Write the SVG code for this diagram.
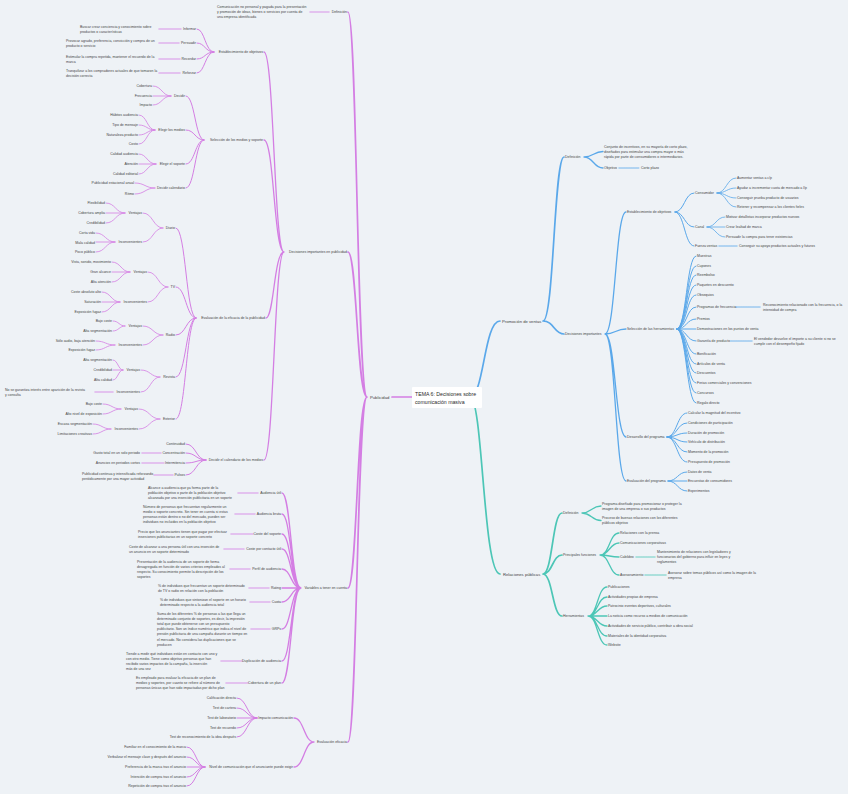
<svg xmlns="http://www.w3.org/2000/svg" width="848" height="794" viewBox="0 0 848 794">
<style>
.t{font-family:"Liberation Sans",Arial,sans-serif;font-size:3.5px;fill:#444}
.e{text-anchor:end}
.h{font-size:4.2px}
.r{font-size:5.2px;fill:#2a2a2a}
path{fill:none;stroke-linecap:round}
.m path{stroke:#d47ee3}
.b path{stroke:#5aa8ea}
.g path{stroke:#4cc6b6}
.w1{stroke-width:1.7}
.w2{stroke-width:1.3}
.w3{stroke-width:1}
.w4{stroke-width:0.8}
.d{stroke-width:1.6;stroke-opacity:.55}
.dd{stroke-dasharray:1 .7}
</style>
<rect width="848" height="794" fill="#eef2f6"/>
<g id="connectors">
<g class="m">
<path class="w1" d="M412 397H392"/>
<path class="w1" d="M367 397C357 397 357 12 348 12M367 397C357 397 357 252 348 252M367 397C357 397 357 588 348 588M367 397C357 397 357 742 348 742"/>
<path class="d" d="M329 12H310"/>
<path class="w2" d="M284 252C274 252 274 52 264 52M284 252C274 252 274 140 264 140M284 252C274 252 274 318 266 318M284 252C274 252 274 460 264 460"/>
<path class="w3" d="M214 52C205 52 205 29 197 29M214 52C205 52 205 43 197 43M214 52C205 52 205 59 197 59M214 52C205 52 205 73 197 73"/>
<path class="d" d="M181 29H159M179 43H159M180 59H159M180 73H159"/>
<path class="w3" d="M204 140C195 140 195 96 186 96M204 140C195 140 195 130 186 130M204 140C195 140 195 164 186 164M204 140C195 140 195 188 186 188"/>
<path class="w4" d="M171 96C162 96 162 86 153 86M171 96H153M171 96C162 96 162 105 153 105"/>
<path class="w4" d="M155 130C147 130 147 115 139 115M155 130C147 130 147 125 139 125M155 130C147 130 147 135 139 135M155 130C147 130 147 144 139 144"/>
<path class="w4" d="M156 164C147 164 147 154 139 154M156 164H139M156 164C147 164 147 174 139 174"/>
<path class="w4" d="M155 188C145 188 145 183 135 183M155 188C145 188 145 194 135 194"/>
<path class="w3" d="M196 318C186 318 186 228 176 228M196 318C186 318 186 287 176 287M196 318C186 318 186 335 176 335M196 318C186 318 186 377 176 377M196 318C186 318 186 419 176 419"/>
<path class="w4" d="M163 228C153 228 153 213 143 213M163 228C153 228 153 242 143 242M125 213C115.5 213 115.5 203 106 203M125 213H106M125 213C115.5 213 115.5 223 106 223M115 242C105.5 242 105.5 233 96 233M115 242H96M115 242C105.5 242 105.5 252 96 252M168 287C158 287 158 272 148 272M168 287C158 287 158 302 148 302M130 272C121 272 121 262 112 262M130 272H112M130 272C121 272 121 282 112 282M120 302C111 302 111 292 102 292M120 302H102M120 302C111 302 111 312 102 312M163 335C153 335 153 326 143 326M163 335C153 335 153 345 143 345M125 326C119 326 119 321 113 321M125 326C119 326 119 331 113 331M115 345C105.5 345 105.5 341 96 341M115 345C105.5 345 105.5 350 96 350M160 377C150.5 377 150.5 370 141 370M160 377C150.5 377 150.5 392 141 392M123 370C118 370 118 360 113 360M123 370H113M123 370C118 370 118 380 113 380M160 419C149.5 419 149.5 409 139 409M160 419C149.5 419 149.5 429 139 429M121 409C112 409 112 404 103 404M121 409C112 409 112 414 103 414M111 429C102 429 102 424 93 424M111 429C102 429 102 434 93 434"/>
<path class="d" d="M113 392H95"/>
<path class="w3" d="M206 460C196 460 196 444 186 444M206 460C196 460 196 453 186 453M206 460C196 460 196 463 186 463M206 460C196 460 196 475 186 475"/>
<path class="d" d="M161 453H142M164 463H142M173 475H154"/>
<path class="w2" d="M301 588C291 588 291 493 282 493M301 588C291 588 291 514 282 514M301 588C291 588 291 534 282 534M301 588C291 588 291 549 282 549M301 588C291 588 291 569 282 569M301 588H282M301 588C291 588 291 602 282 602M301 588C291 588 291 629 282 629M301 588C291 588 291 661 282 661M301 588C291 588 291 683 282 683"/>
<path class="d" d="M258 493H238M255 514H235M253 534H231M244 549H224M250 569H230M269 588H249M270 602H250M270 629H251M242 661H221M248 683H226"/>
<path class="w2" d="M314 742C304 742 304 718 294 718M314 742C304 742 304 767 294 767"/>
<path class="w3" d="M257 718C247 718 247 698 237 698M257 718C247 718 247 708 237 708M257 718H237M257 718C247 718 247 728 237 728M257 718C247 718 247 737 237 737"/>
<path class="w3" d="M205 767C196 767 196 747 187 747M205 767C196 767 196 757 187 757M205 767H187M205 767C196 767 196 777 187 777M205 767C196 767 196 786 187 786"/>
</g>
<g class="b">
<path class="w1" d="M470 397C484 397 484 321 500 321"/>
<path class="w1" d="M543 321C554 321 554 157 564 157M543 321C554 321 554 334 564 334"/>
<path class="w2" d="M584 157C593.5 157 593.5 151.5 603 151.5M584 157C593.5 157 593.5 168 603 168"/>
<path class="d dd" d="M619 168H639"/>
<path class="w2" d="M605 334C615.5 334 615.5 212 626 212M605 334C615.5 334 615.5 329 626 329M605 334C615.5 334 615.5 437 626 437M605 334C615.5 334 615.5 481 626 481"/>
<path class="w3" d="M675 212C684.5 212 684.5 193 694 193M675 212C684.5 212 684.5 227 694 227M675 212C684.5 212 684.5 246 694 246"/>
<path class="w4" d="M717 193C726.5 193 726.5 178 736 178M717 193C726.5 193 726.5 188 736 188M717 193C726.5 193 726.5 198 736 198M717 193C726.5 193 726.5 207 736 207M707 227C716 227 716 217 725 217M707 227H725M707 227C716 227 716 237 725 237"/>
<path class="d dd" d="M719 246H737"/>
<path class="w3" d="M677 329C686.5 329 686.5 256 696 256M677 329C686.5 329 686.5 266 696 266M677 329C686.5 329 686.5 275 696 275M677 329C686.5 329 686.5 285 696 285M677 329C686.5 329 686.5 295 696 295M677 329C686.5 329 686.5 307 696 307M677 329C686.5 329 686.5 319 696 319M677 329H696M677 329C686.5 329 686.5 341 696 341M677 329C686.5 329 686.5 354 696 354M677 329C686.5 329 686.5 364 696 364M677 329C686.5 329 686.5 373 696 373M677 329C686.5 329 686.5 383 696 383M677 329C686.5 329 686.5 393 696 393M677 329C686.5 329 686.5 403 696 403"/>
<path class="d dd" d="M736 307H760M731 341H752"/>
<path class="w3" d="M667 437C677 437 677 413 687 413M667 437C677 437 677 423 687 423M667 437C677 437 677 433 687 433M667 437C677 437 677 442 687 442M667 437C677 437 677 452 687 452M667 437C677 437 677 462 687 462"/>
<path class="w3" d="M668 481C677.5 481 677.5 472 687 472M668 481H687M668 481C677.5 481 677.5 491 687 491"/>
</g>
<g class="g">
<path class="w1" d="M470 397C483 397 483 574 500 574"/>
<path class="w1" d="M543 574C552.5 574 552.5 513 562 513M543 574C552.5 574 552.5 555 562 555M543 574C552.5 574 552.5 616 562 616"/>
<path class="w2" d="M582 513C591.5 513 591.5 506 601 506M582 513C591.5 513 591.5 520.5 601 520.5"/>
<path class="w2" d="M600 555C609.5 555 609.5 533 619 533M600 555C609.5 555 609.5 543 619 543M600 555C609.5 555 609.5 557 619 557M600 555C609.5 555 609.5 575 619 575"/>
<path class="d dd" d="M636 557H655M645 575H666"/>
<path class="w2" d="M588 616C597.5 616 597.5 587 607 587M588 616C597.5 616 597.5 597 607 597M588 616C597.5 616 597.5 606 607 606M588 616H607M588 616C597.5 616 597.5 626 607 626M588 616C597.5 616 597.5 636 607 636M588 616C597.5 616 597.5 645 607 645"/>
</g>
</g>
<g id="root"><rect x="412" y="387" width="70" height="21" rx="1" fill="#ffffff"/><text class="t r" x="415" y="396">TEMA 6: Decisiones sobre<tspan x="415" dy="7.6">comunicación masiva</tspan></text></g>
<g id="left">
<g id="publicidad"><text class="t h" x="370" y="398.5">Publicidad</text></g>
<g id="p-def"><text class="t e" x="347" y="13.3">Definición</text></g>
<g id="p-def-d"><text class="t" x="217" y="8.2">Comunicación no personal y pagada para la presentación<tspan x="217" dy="5.1">y promoción de ideas, bienes o servicios por cuenta de</tspan><tspan x="217" dy="5.1">una empresa identificada</tspan></text></g>
<g id="p-dec"><text class="t e" x="347" y="253.3">Decisiones importantes en publicidad</text></g>
<g id="p-obj"><text class="t e" x="263" y="53.3">Establecimiento de objetivos</text></g>
<g id="o1"><text class="t e" x="196" y="30.3">Informar</text></g>
<g id="o1d"><text class="t" x="80" y="27.8">Buscar crear conciencia y conocimiento sobre<tspan x="80" dy="5.1">productos o características</tspan></text></g>
<g id="o2"><text class="t e" x="196" y="44.3">Persuadir</text></g>
<g id="o2d"><text class="t" x="66" y="41.8">Provocar agrado, preferencia, convicción y compra de un<tspan x="66" dy="5.1">producto o servicio</tspan></text></g>
<g id="o3"><text class="t e" x="196" y="60.3">Recordar</text></g>
<g id="o3d"><text class="t" x="66" y="57.8">Estimular la compra repetida, mantener el recuerdo de la<tspan x="66" dy="5.1">marca</tspan></text></g>
<g id="o4"><text class="t e" x="196" y="74.3">Reforzar</text></g>
<g id="o4d"><text class="t" x="66" y="71.8">Tranquilizar a los compradores actuales de que tomaron la<tspan x="66" dy="5.1">decisión correcta</tspan></text></g>
<g id="p-sel"><text class="t e" x="263" y="141.3">Selección de los medios y soporte</text></g>
<g id="s1"><text class="t e" x="185" y="97.3">Decidir</text></g>
<g id="s1a"><text class="t e" x="152" y="87.3">Cobertura</text></g>
<g id="s1b"><text class="t e" x="152" y="97.3">Frecuencia</text></g>
<g id="s1c"><text class="t e" x="152" y="106.3">Impacto</text></g>
<g id="s2"><text class="t e" x="185" y="131.3">Elegir los medios</text></g>
<g id="s2a"><text class="t e" x="138" y="116.3">Hábitos audiencia</text></g>
<g id="s2b"><text class="t e" x="138" y="126.3">Tipo de mensaje</text></g>
<g id="s2c"><text class="t e" x="138" y="136.3">Naturaleza producto</text></g>
<g id="s2d"><text class="t e" x="138" y="145.3">Costo</text></g>
<g id="s3"><text class="t e" x="185" y="165.3">Elegir el soporte</text></g>
<g id="s3a"><text class="t e" x="138" y="155.3">Calidad audiencia</text></g>
<g id="s3b"><text class="t e" x="138" y="165.3">Atención</text></g>
<g id="s3c"><text class="t e" x="138" y="175.3">Calidad editorial</text></g>
<g id="s4"><text class="t e" x="185" y="189.3">Decidir calendario</text></g>
<g id="s4a"><text class="t e" x="134" y="184.3">Publicidad estacional anual</text></g>
<g id="s4b"><text class="t e" x="134" y="195.3">Ritmo</text></g>
<g id="p-eval"><text class="t e" x="265" y="319.3">Evaluación de la eficacia de la publicidad</text></g>
<g id="diario"><text class="t e" x="175" y="229.3">Diario</text></g>
<g id="di-v"><text class="t e" x="142" y="214.3">Ventajas</text></g>
<g id="di-v1"><text class="t e" x="105" y="204.3">Flexibilidad</text></g>
<g id="di-v2"><text class="t e" x="105" y="214.3">Cobertura amplia</text></g>
<g id="di-v3"><text class="t e" x="105" y="224.3">Credibilidad</text></g>
<g id="di-i"><text class="t e" x="142" y="243.3">Inconvenientes</text></g>
<g id="di-i1"><text class="t e" x="95" y="234.3">Corta vida</text></g>
<g id="di-i2"><text class="t e" x="95" y="244.3">Mala calidad</text></g>
<g id="di-i3"><text class="t e" x="95" y="253.3">Poco público</text></g>
<g id="tv"><text class="t e" x="175" y="288.3">TV</text></g>
<g id="tv-v"><text class="t e" x="147" y="273.3">Ventajas</text></g>
<g id="tv-v1"><text class="t e" x="111" y="263.3">Vista, sonido, movimiento</text></g>
<g id="tv-v2"><text class="t e" x="111" y="273.3">Gran alcance</text></g>
<g id="tv-v3"><text class="t e" x="111" y="283.3">Alta atención</text></g>
<g id="tv-i"><text class="t e" x="147" y="303.3">Inconvenientes</text></g>
<g id="tv-i1"><text class="t e" x="101" y="293.3">Coste absoluto alto</text></g>
<g id="tv-i2"><text class="t e" x="101" y="303.3">Saturación</text></g>
<g id="tv-i3"><text class="t e" x="101" y="313.3">Exposición fugaz</text></g>
<g id="radio"><text class="t e" x="175" y="336.3">Radio</text></g>
<g id="ra-v"><text class="t e" x="142" y="327.3">Ventajas</text></g>
<g id="ra-v1"><text class="t e" x="112" y="322.3">Bajo coste</text></g>
<g id="ra-v2"><text class="t e" x="112" y="332.3">Alta segmentación</text></g>
<g id="ra-i"><text class="t e" x="142" y="346.3">Inconvenientes</text></g>
<g id="ra-i1"><text class="t e" x="95" y="342.3">Sólo audio, baja atención</text></g>
<g id="ra-i2"><text class="t e" x="95" y="351.3">Exposición fugaz</text></g>
<g id="revista"><text class="t e" x="175" y="378.3">Revista</text></g>
<g id="re-v"><text class="t e" x="140" y="371.3">Ventajas</text></g>
<g id="re-v1"><text class="t e" x="112" y="361.3">Alta segmentación</text></g>
<g id="re-v2"><text class="t e" x="112" y="371.3">Credibilidad</text></g>
<g id="re-v3"><text class="t e" x="112" y="381.3">Alta calidad</text></g>
<g id="re-i"><text class="t e" x="140" y="393.3">Inconvenientes</text></g>
<g id="re-i1"><text class="t" x="5" y="390.8">No se garantiza interés entre aparición de la revista<tspan x="5" dy="5.1">y consulta</tspan></text></g>
<g id="exterior"><text class="t e" x="175" y="420.3">Exterior</text></g>
<g id="ex-v"><text class="t e" x="138" y="410.3">Ventajas</text></g>
<g id="ex-v1"><text class="t e" x="102" y="405.3">Bajo coste</text></g>
<g id="ex-v2"><text class="t e" x="102" y="415.3">Alto nivel de exposición</text></g>
<g id="ex-i"><text class="t e" x="138" y="430.3">Inconvenientes</text></g>
<g id="ex-i1"><text class="t e" x="92" y="425.3">Escasa segmentación</text></g>
<g id="ex-i2"><text class="t e" x="92" y="435.3">Limitaciones creativas</text></g>
<g id="p-cal"><text class="t e" x="263" y="461.3">Decidir el calendario de los medios</text></g>
<g id="c1"><text class="t e" x="185" y="445.3">Continuidad</text></g>
<g id="c2"><text class="t e" x="185" y="454.3">Concentración</text></g>
<g id="c2d"><text class="t e" x="140" y="454.3">Gasto total en un solo periodo</text></g>
<g id="c3"><text class="t e" x="185" y="464.3">Intermitencia</text></g>
<g id="c3d"><text class="t e" x="140" y="464.3">Anuncios en periodos cortos</text></g>
<g id="c4"><text class="t e" x="185" y="476.3">Pulsos</text></g>
<g id="c4d"><text class="t" x="82" y="474.8">Publicidad continua y intensificada reforzando<tspan x="82" dy="5.1">periódicamente por una mayor actividad</tspan></text></g>
<g id="p-var"><text class="t e" x="347" y="589.3">Variables a tener en cuenta</text></g>
<g id="v1"><text class="t e" x="281" y="494.3">Audiencia útil</text></g>
<g id="v1d"><text class="t" x="148" y="489.2">Alcance a audiencia que ya forma parte de la<tspan x="148" dy="5.1">población objetivo o parte de la población objetivo</tspan><tspan x="148" dy="5.1">alcanzada por una inserción publicitaria en un soporte</tspan></text></g>
<g id="v2"><text class="t e" x="281" y="515.3">Audiencia bruta</text></g>
<g id="v2d"><text class="t" x="143" y="507.7">Número de personas que frecuentan regularmente un<tspan x="143" dy="5.1">medio o soporte concreto. Sin tener en cuenta si estas</tspan><tspan x="143" dy="5.1">personas están dentro o no del mercado, pueden ser</tspan><tspan x="143" dy="5.1">individuos no incluidos en la población objetivo</tspan></text></g>
<g id="v3"><text class="t e" x="281" y="535.3">Coste del soporte</text></g>
<g id="v3d"><text class="t" x="138" y="532.8">Precio que los anunciantes tienen que pagar por efectuar<tspan x="138" dy="5.1">inserciones publicitarias en un soporte concreto</tspan></text></g>
<g id="v4"><text class="t e" x="281" y="550.3">Coste por contacto útil</text></g>
<g id="v4d"><text class="t" x="129" y="547.8">Coste de alcanzar a una persona útil con una inserción de<tspan x="129" dy="5.1">un anuncio en un soporte determinado</tspan></text></g>
<g id="v5"><text class="t e" x="281" y="570.3">Perfil de audiencia</text></g>
<g id="v5d"><text class="t" x="137" y="562.7">Presentación de la audiencia de un soporte de forma<tspan x="137" dy="5.1">desagregada en función de varios criterios empleados al</tspan><tspan x="137" dy="5.1">respecto. Su conocimiento permite la descripción de los</tspan><tspan x="137" dy="5.1">soportes</tspan></text></g>
<g id="v6"><text class="t e" x="281" y="589.3">Rating</text></g>
<g id="v6d"><text class="t" x="158" y="586.8">% de individuos que frecuentan un soporte determinado<tspan x="158" dy="5.1">de TV o radio en relación con la población</tspan></text></g>
<g id="v7"><text class="t e" x="281" y="603.3">Cuota</text></g>
<g id="v7d"><text class="t" x="160" y="600.8">% de individuos que sintonizan el soporte en un horario<tspan x="160" dy="5.1">determinado respecto a la audiencia total</tspan></text></g>
<g id="v8"><text class="t e" x="281" y="630.3">GRPs</text></g>
<g id="v8d"><text class="t" x="157" y="615">Suma de los diferentes % de personas a las que llega un<tspan x="157" dy="5.1">determinado conjunto de soportes, es decir, la impresión</tspan><tspan x="157" dy="5.1">total que puede obtenerse con un presupuesto</tspan><tspan x="157" dy="5.1">publicitario. Son un índice numérico que indica el nivel de</tspan><tspan x="157" dy="5.1">presión publicitaria de una campaña durante un tiempo en</tspan><tspan x="157" dy="5.1">el mercado. No considera las duplicaciones que se</tspan><tspan x="157" dy="5.1">producen</tspan></text></g>
<g id="v9"><text class="t e" x="281" y="662.3">Duplicación de audiencia</text></g>
<g id="v9d"><text class="t" x="126" y="654.7">Tiende a medir qué individuos están en contacto con uno y<tspan x="126" dy="5.1">con otro medio. Tiene como objetivo personas que han</tspan><tspan x="126" dy="5.1">recibido varios impactos de la campaña, la inserción</tspan><tspan x="126" dy="5.1">más de una vez</tspan></text></g>
<g id="v10"><text class="t e" x="281" y="684.3">Cobertura de un plan</text></g>
<g id="v10d"><text class="t" x="136" y="679.2">Es empleado para evaluar la eficacia de un plan de<tspan x="136" dy="5.1">medios y soportes, por cuanto se refiere al número de</tspan><tspan x="136" dy="5.1">personas únicas que han sido impactadas por dicho plan</tspan></text></g>
<g id="p-efi"><text class="t e" x="347" y="743.3">Evaluación eficacia</text></g>
<g id="ef1"><text class="t e" x="293" y="719.3">Impacto comunicación</text></g>
<g id="ef1a"><text class="t e" x="236" y="699.3">Calificación directa</text></g>
<g id="ef1b"><text class="t e" x="236" y="709.3">Test de cartera</text></g>
<g id="ef1c"><text class="t e" x="236" y="719.3">Test de laboratorio</text></g>
<g id="ef1d"><text class="t e" x="236" y="729.3">Test de recuerdo</text></g>
<g id="ef1e"><text class="t e" x="236" y="738.3">Test de reconocimiento de la idea después</text></g>
<g id="ef2"><text class="t e" x="293" y="768.3">Nivel de comunicación que el anunciante puede exigir</text></g>
<g id="ef2a"><text class="t e" x="186" y="748.3">Familiar en el conocimiento de la marca</text></g>
<g id="ef2b"><text class="t e" x="186" y="758.3">Verbalizar el mensaje clave y después del anuncio</text></g>
<g id="ef2c"><text class="t e" x="186" y="768.3">Preferencia de la marca tras el anuncio</text></g>
<g id="ef2d"><text class="t e" x="186" y="778.3">Intención de compra tras el anuncio</text></g>
<g id="ef2e"><text class="t e" x="186" y="787.3">Repetición de compra tras el anuncio</text></g>
</g>
<g id="right">
<g id="promo"><text class="t h" x="502" y="322.5">Promoción de ventas</text></g>
<g id="pr-def"><text class="t" x="565" y="158.3">Definición</text></g>
<g id="pr-def-d"><text class="t" x="604" y="147.8">Conjunto de incentivos, en su mayoría de corto plazo,<tspan x="604" dy="5.1">diseñados para estimular una compra mayor o más</tspan><tspan x="604" dy="5.1">rápida por parte de consumidores o intermediarios.</tspan></text></g>
<g id="pr-objv"><text class="t" x="604" y="169.3">Objetivo</text></g>
<g id="pr-objv-d"><text class="t" x="641" y="169.3">Corto plazo</text></g>
<g id="pr-dec"><text class="t" x="565" y="335.3">Decisiones importantes</text></g>
<g id="pr-obj"><text class="t" x="627" y="213.3">Establecimiento de objetivos</text></g>
<g id="cons"><text class="t" x="695" y="194.3">Consumidor</text></g>
<g id="cons1"><text class="t" x="737" y="179.3">Aumentar ventas a c/p</text></g>
<g id="cons2"><text class="t" x="737" y="189.3">Ayudar a incrementar cuota de mercado a l/p</text></g>
<g id="cons3"><text class="t" x="737" y="199.3">Conseguir prueba producto de usuarios</text></g>
<g id="cons4"><text class="t" x="737" y="208.3">Retener y recompensar a los clientes fieles</text></g>
<g id="canal"><text class="t" x="695" y="228.3">Canal</text></g>
<g id="canal1"><text class="t" x="726" y="218.3">Motivar detallistas incorporar productos nuevos</text></g>
<g id="canal2"><text class="t" x="726" y="228.3">Crear lealtad de marca</text></g>
<g id="canal3"><text class="t" x="726" y="238.3">Persuadir la compra para tener existencias</text></g>
<g id="fv"><text class="t" x="695" y="247.3">Fuerza ventas</text></g>
<g id="fv-d"><text class="t" x="739" y="247.3">Conseguir su apoyo productos actuales y futuros</text></g>
<g id="pr-sel"><text class="t" x="627" y="330.3">Selección de las herramientas</text></g>
<g id="h1"><text class="t" x="697" y="257.3">Muestras</text></g>
<g id="h2"><text class="t" x="697" y="267.3">Cupones</text></g>
<g id="h3"><text class="t" x="697" y="276.3">Reembolso</text></g>
<g id="h4"><text class="t" x="697" y="286.3">Paquetes en descuento</text></g>
<g id="h5"><text class="t" x="697" y="296.3">Obsequios</text></g>
<g id="h6"><text class="t" x="697" y="308.3">Programas de frecuencia</text></g>
<g id="h6d"><text class="t" x="763" y="306.1">Reconocimiento relacionado con la frecuencia, o la<tspan x="763" dy="5.1">intensidad de compra</tspan></text></g>
<g id="h7"><text class="t" x="697" y="320.3">Premios</text></g>
<g id="h8"><text class="t" x="697" y="330.3">Demostraciones en los puntos de venta</text></g>
<g id="h9"><text class="t" x="697" y="342.3">Garantía de producto</text></g>
<g id="h9d"><text class="t" x="754" y="340.1">El vendedor devuelve el importe a su cliente si no se<tspan x="754" dy="5.1">cumple con el desempeño fijado</tspan></text></g>
<g id="h10"><text class="t" x="697" y="355.3">Bonificación</text></g>
<g id="h11"><text class="t" x="697" y="365.3">Artículos de venta</text></g>
<g id="h12"><text class="t" x="697" y="374.3">Descuentos</text></g>
<g id="h13"><text class="t" x="697" y="384.3">Ferias comerciales y convenciones</text></g>
<g id="h14"><text class="t" x="697" y="394.3">Concursos</text></g>
<g id="h15"><text class="t" x="697" y="404.3">Regalo directo</text></g>
<g id="pr-des"><text class="t" x="627" y="438.3">Desarrollo del programa</text></g>
<g id="d1"><text class="t" x="688" y="414.3">Calcular la magnitud del incentivo</text></g>
<g id="d2"><text class="t" x="688" y="424.3">Condiciones de participación</text></g>
<g id="d3"><text class="t" x="688" y="434.3">Duración de promoción</text></g>
<g id="d4"><text class="t" x="688" y="443.3">Vehículo de distribución</text></g>
<g id="d5"><text class="t" x="688" y="453.3">Momento de la promoción</text></g>
<g id="d6"><text class="t" x="688" y="463.3">Presupuesto de promoción</text></g>
<g id="pr-ev"><text class="t" x="627" y="482.3">Evaluación del programa</text></g>
<g id="e1"><text class="t" x="688" y="473.3">Datos de venta</text></g>
<g id="e2"><text class="t" x="688" y="482.3">Encuestas de consumidores</text></g>
<g id="e3"><text class="t" x="688" y="492.3">Experimentos</text></g>
<g id="rp"><text class="t h" x="503" y="575.5">Relaciones públicas</text></g>
<g id="rp-def"><text class="t" x="563" y="514.3">Definición</text></g>
<g id="rp-def1"><text class="t" x="602" y="504.8">Programa diseñado para promocionar o proteger la<tspan x="602" dy="5.1">imagen de una empresa o sus productos</tspan></text></g>
<g id="rp-def2"><text class="t" x="602" y="519.3">Proceso de buenas relaciones con los diferentes<tspan x="602" dy="5.1">públicos objetivo</tspan></text></g>
<g id="rp-fun"><text class="t" x="563" y="556.3">Principales funciones</text></g>
<g id="f1"><text class="t" x="620" y="534.3">Relaciones con la prensa</text></g>
<g id="f2"><text class="t" x="620" y="544.3">Comunicaciones corporativas</text></g>
<g id="f3"><text class="t" x="620" y="558.3">Cabildeo</text></g>
<g id="f3d"><text class="t" x="657" y="553.2">Mantenimiento de relaciones con legisladores y<tspan x="657" dy="5.1">funcionarios del gobierno para influir en leyes y</tspan><tspan x="657" dy="5.1">reglamentos</tspan></text></g>
<g id="f4"><text class="t" x="620" y="576.3">Asesoramiento</text></g>
<g id="f4d"><text class="t" x="668" y="573.8">Asesorar sobre temas públicos así como la imagen de la<tspan x="668" dy="5.1">empresa</tspan></text></g>
<g id="rp-her"><text class="t" x="563" y="617.3">Herramientas</text></g>
<g id="t1"><text class="t" x="608" y="588.3">Publicaciones</text></g>
<g id="t2"><text class="t" x="608" y="598.3">Actividades propias de empresa</text></g>
<g id="t3"><text class="t" x="608" y="607.3">Patrocinio eventos deportivos, culturales</text></g>
<g id="t4"><text class="t" x="608" y="617.3">La noticia como recurso a medios de comunicación</text></g>
<g id="t5"><text class="t" x="608" y="627.3">Actividades de servicio público, contribuir a obra social</text></g>
<g id="t6"><text class="t" x="608" y="637.3">Materiales de la identidad corporativa</text></g>
<g id="t7"><text class="t" x="608" y="646.3">Website</text></g>
</g>
</svg>
